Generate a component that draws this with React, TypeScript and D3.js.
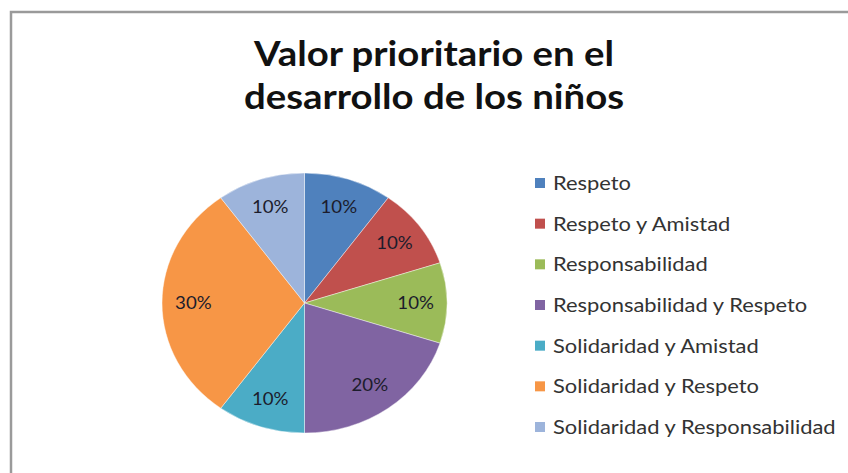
import React from 'react';
import * as d3 from 'd3';

const categories = [
  'Respeto',
  'Respeto y Amistad',
  'Responsabilidad',
  'Responsabilidad y Respeto',
  'Solidaridad y Amistad',
  'Solidaridad y Respeto',
  'Solidaridad y Responsabilidad',
];
const values = [10, 10, 10, 20, 10, 30, 10];
const colors = ['#4F81BD', '#C0504D', '#9BBB59', '#8064A2', '#4BACC6', '#F79646', '#9DB4DB'];
const titleLines = ['Valor prioritario en el', 'desarrollo de los niños'];

const W = 848;
const H = 473;
const SX = 1.096; // horizontal stretch of the reference picture
const FONT = 'Lato, "Open Sans", sans-serif';

export default function App() {
  const total = d3.sum(values);
  const pie = d3.pie<number>().sort(null).value((d) => d)(values);
  const R = 130;
  const cx = 304.5 / SX;
  const cy = 303;
  const arc = d3.arc<d3.PieArcDatum<number>>().innerRadius(0).outerRadius(R);
  const labelArc = d3.arc<d3.PieArcDatum<number>>().innerRadius(R * 0.78).outerRadius(R * 0.78);
  const fmt = d3.format('.0%');

  const legendY = d3.scalePoint<string>().domain(categories).range([183, 427]);

  return (
    <svg
      width={W}
      height={H}
      style={{ position: 'absolute', left: 0, top: 0, background: '#fff' }}
    >
      <rect x={0} y={0} width={W} height={H} fill="#fff" />
      <rect x={11} y={12} width={W + 20} height={H + 20} fill="none" stroke="#9a9a9a" strokeWidth={2.5} />
      <g transform={`scale(${SX},1)`}>
        {titleLines.map((t, i) => (
          <text
            key={t}
            x={434 / SX}
            y={66 + i * 43}
            textAnchor="middle"
            fontFamily={FONT}
            fontWeight="bold"
            fontSize={35}
            fill="#111"
          >
            {t}
          </text>
        ))}
        <g transform={`translate(${cx},${cy})`}>
          {pie.map((p, i) => (
            <path key={i} d={arc(p) as string} fill={colors[i]} stroke="#fff" strokeWidth={0.4} />
          ))}
          {pie.map((p, i) => {
            const [lx, ly] = labelArc.centroid(p);
            return (
              <text
                key={'l' + i}
                x={lx}
                y={ly}
                dy="0.35em"
                textAnchor="middle"
                fontFamily={FONT}
                fontSize={17}
                fill="#1c1c2c"
              >
                {fmt(p.data / total)}
              </text>
            );
          })}
        </g>
        {categories.map((c, i) => {
          const y = legendY(c) as number;
          return (
            <g key={c}>
              <rect x={535 / SX} y={y - 5} width={10 / SX} height={10} fill={colors[i]} />
              <text x={553 / SX} y={y} dy="0.35em" fontFamily={FONT} fontSize={20} fill="#333">
                {c}
              </text>
            </g>
          );
        })}
      </g>
    </svg>
  );
}
